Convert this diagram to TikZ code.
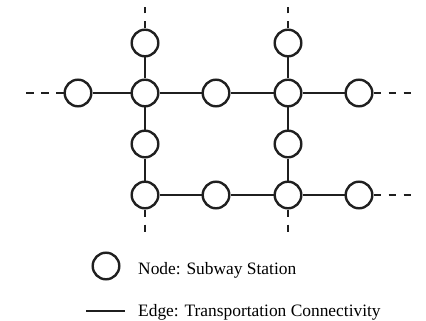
\documentclass[tikz,border=0pt]{standalone}
\usepackage{fontspec}
\setmainfont{Liberation Serif}
\begin{document}
\begin{tikzpicture}[x=1pt,y=-1pt,
  station/.style={circle,draw=black!88,line width=2.4pt,minimum size=26.6pt,inner sep=0pt,fill=white},
  edge/.style={draw=black!88,line width=2.4pt},
  dashedge/.style={draw=black!88,line width=2.4pt,dash pattern=on 7.5pt off 7.5pt},
  lbl/.style={anchor=base west,inner sep=0pt,font=\fontsize{17.4}{20}\selectfont}]
\useasboundingbox (0,0) rectangle (426,321);
% stations
\node[station] (a1) at (145,43) {};
\node[station] (a2) at (288,43) {};
\node[station] (b0) at (78,93) {};
\node[station] (b1) at (145,93) {};
\node[station] (b2) at (216,93) {};
\node[station] (b3) at (288,93) {};
\node[station] (b4) at (359,93) {};
\node[station] (c1) at (145,144) {};
\node[station] (c3) at (288,144) {};
\node[station] (d1) at (145,195) {};
\node[station] (d2) at (216,195) {};
\node[station] (d3) at (288,195) {};
\node[station] (d4) at (359,195) {};
% free ends
\coordinate (t1) at (145,7);
\coordinate (t2) at (288,7);
\coordinate (l0) at (24,93);
\coordinate (r4) at (413,93);
\coordinate (u1) at (145,232);
\coordinate (u3) at (288,232);
\coordinate (r5) at (413,195);
% edges
\draw[edge] (a1) -- (b1) -- (c1) -- (d1);
\draw[edge] (a2) -- (b3) -- (c3) -- (d3);
\draw[edge] (b0) -- (b1) -- (b2) -- (b3) -- (b4);
\draw[edge] (d1) -- (d2) -- (d3) -- (d4);
% dashed continuations
\draw[dashedge] (a1.north) -- (t1);
\draw[dashedge] (a2.north) -- (t2);
\draw[dashedge] (b0.west) -- (l0);
\draw[dashedge] (b4.east) -- (r4);
\draw[dashedge] (d1.south) -- (u1);
\draw[dashedge] (d3.south) -- (u3);
\draw[dashedge] (d4.east) -- (r5);
% legend
\node[station] (ln) at (106,266) {};
\coordinate (le1) at (86,311);
\coordinate (le2) at (125,311);
\draw[draw=black!88,line width=2pt] (le1) -- (le2);
\node[lbl] (lt1) at (138,274) {Node: Subway Station};
\node[lbl] (lt2) at (138,316) {Edge: Transportation Connectivity};
\end{tikzpicture}
\end{document}
